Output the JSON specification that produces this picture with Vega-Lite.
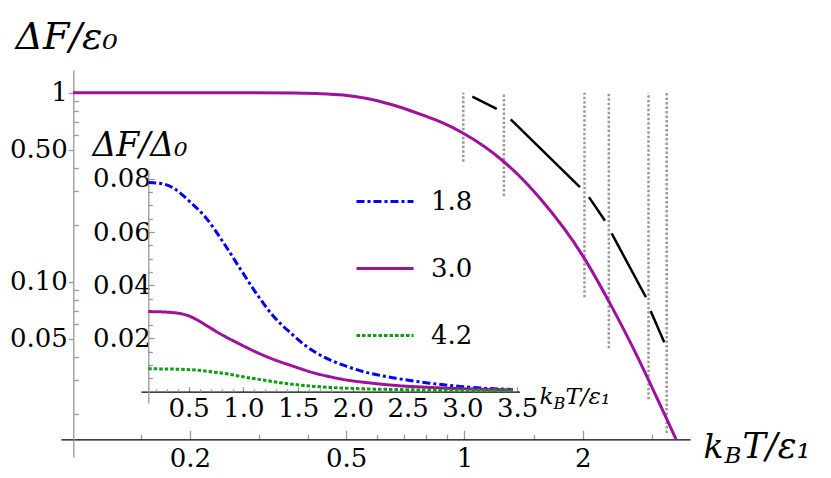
{
  "$schema": "https://vega.github.io/schema/vega-lite/v6.json",
  "width": 629,
  "height": 387,
  "autosize": {"type": "none"},
  "padding": {"left": 61, "top": 70, "right": 141, "bottom": 21},
  "background": "white",
  "config": {
    "view": {"stroke": null},
    "font": "DejaVu Serif",
    "axis": {
      "grid": false,
      "labelFont": "DejaVu Serif",
      "titleFont": "DejaVu Serif",
      "labelFontSize": 26,
      "labelColor": "black",
      "titleColor": "black",
      "labelFlush": false,
      "labelOverlap": false,
      "titleFontWeight": "normal",
      "titleFontStyle": "italic",
      "titleAlign": "left",
      "titleBaseline": "alphabetic",
      "titleAngle": 0,
      "tickColor": "#999999",
      "tickWidth": 1.3,
      "domainWidth": 1.3
    },
    "legend": {"labelFont": "DejaVu Serif"}
  },
  "datasets": {
    "main": [
      {"t": 0.1009, "f": 1.0}, {"t": 0.212, "f": 1.0}, {"t": 0.285, "f": 0.9995},
      {"t": 0.366, "f": 0.997}, {"t": 0.42, "f": 0.99}, {"t": 0.491, "f": 0.972},
      {"t": 0.56, "f": 0.935}, {"t": 0.658, "f": 0.861},
      {"t": 0.803, "f": 0.746}, {"t": 0.866, "f": 0.702}, {"t": 0.993, "f": 0.61},
      {"t": 1.26, "f": 0.431}, {"t": 1.556, "f": 0.276}, {"t": 2.006, "f": 0.1356},
      {"t": 2.332, "f": 0.0784}, {"t": 2.768, "f": 0.0393}, {"t": 2.94, "f": 0.0302},
      {"t": 3.27, "f": 0.0188}, {"t": 3.453, "f": 0.0147}
    ],
    "seg": [
      {"seg": 1, "t": 1.047, "f": 0.952}, {"seg": 1, "t": 1.208, "f": 0.82},
      {"seg": 2, "t": 1.311, "f": 0.723}, {"seg": 2, "t": 1.967, "f": 0.316},
      {"seg": 3, "t": 2.074, "f": 0.28}, {"seg": 3, "t": 2.278, "f": 0.21},
      {"seg": 4, "t": 2.369, "f": 0.18}, {"seg": 4, "t": 2.896, "f": 0.0827},
      {"seg": 5, "t": 2.977, "f": 0.07}, {"seg": 5, "t": 3.224, "f": 0.0478}
    ],
    "vlines": [
      {"t": 0.993, "lo": 0.431, "hi": 1.0}, {"t": 1.26, "lo": 0.284, "hi": 1.0},
      {"t": 2.02, "lo": 0.0827, "hi": 1.0}, {"t": 2.33, "lo": 0.0444, "hi": 1.0},
      {"t": 2.94, "lo": 0.0239, "hi": 1.0}, {"t": 3.27, "lo": 0.0158, "hi": 1.0}
    ],
    "inset": [
      {"a": "1.8", "t": 0.13, "f": 0.0786}, {"a": "1.8", "t": 0.25, "f": 0.0782},
      {"a": "1.8", "t": 0.36, "f": 0.0765}, {"a": "1.8", "t": 0.51, "f": 0.0714},
      {"a": "1.8", "t": 0.66, "f": 0.0652}, {"a": "1.8", "t": 0.82, "f": 0.0558},
      {"a": "1.8", "t": 0.97, "f": 0.0462}, {"a": "1.8", "t": 1.12, "f": 0.0368},
      {"a": "1.8", "t": 1.27, "f": 0.0285}, {"a": "1.8", "t": 1.43, "f": 0.0221},
      {"a": "1.8", "t": 1.58, "f": 0.0169}, {"a": "1.8", "t": 1.76, "f": 0.0125},
      {"a": "1.8", "t": 1.95, "f": 0.0094}, {"a": "1.8", "t": 2.09, "f": 0.0076},
      {"a": "1.8", "t": 2.4, "f": 0.005}, {"a": "1.8", "t": 2.7, "f": 0.0032},
      {"a": "1.8", "t": 3.0, "f": 0.0019}, {"a": "1.8", "t": 3.2, "f": 0.0013},
      {"a": "1.8", "t": 3.46, "f": 0.0008},
      {"a": "3.0", "t": 0.13, "f": 0.0301}, {"a": "3.0", "t": 0.25, "f": 0.03},
      {"a": "3.0", "t": 0.36, "f": 0.0297}, {"a": "3.0", "t": 0.43, "f": 0.0293},
      {"a": "3.0", "t": 0.5, "f": 0.0285}, {"a": "3.0", "t": 0.58, "f": 0.0269},
      {"a": "3.0", "t": 0.66, "f": 0.0249}, {"a": "3.0", "t": 0.74, "f": 0.0229},
      {"a": "3.0", "t": 0.82, "f": 0.021},
      {"a": "3.0", "t": 0.97, "f": 0.0178}, {"a": "3.0", "t": 1.12, "f": 0.0148},
      {"a": "3.0", "t": 1.27, "f": 0.0122}, {"a": "3.0", "t": 1.43, "f": 0.0099},
      {"a": "3.0", "t": 1.64, "f": 0.0071}, {"a": "3.0", "t": 1.79, "f": 0.0056},
      {"a": "3.0", "t": 1.94, "f": 0.0044}, {"a": "3.0", "t": 2.15, "f": 0.0033},
      {"a": "3.0", "t": 2.4, "f": 0.0023}, {"a": "3.0", "t": 2.7, "f": 0.0016},
      {"a": "3.0", "t": 3.0, "f": 0.0011}, {"a": "3.0", "t": 3.46, "f": 0.0007},
      {"a": "4.2", "t": 0.13, "f": 0.0086}, {"a": "4.2", "t": 0.35, "f": 0.0085},
      {"a": "4.2", "t": 0.57, "f": 0.0081}, {"a": "4.2", "t": 0.72, "f": 0.0074},
      {"a": "4.2", "t": 0.88, "f": 0.0065}, {"a": "4.2", "t": 1.02, "f": 0.0054},
      {"a": "4.2", "t": 1.18, "f": 0.0044}, {"a": "4.2", "t": 1.33, "f": 0.0034},
      {"a": "4.2", "t": 1.49, "f": 0.0026}, {"a": "4.2", "t": 1.79, "f": 0.0016},
      {"a": "4.2", "t": 2.09, "f": 0.0011}, {"a": "4.2", "t": 2.4, "f": 0.0008},
      {"a": "4.2", "t": 3.0, "f": 0.0005}, {"a": "4.2", "t": 3.46, "f": 0.0004}
    ]
  },
  "layer": [
    {
      "data": {"name": "vlines"},
      "mark": {"type": "rule", "color": "#999999", "strokeWidth": 2.5, "strokeDash": [2.5, 2]},
      "encoding": {
        "x": {
          "field": "t", "type": "quantitative",
          "scale": {"type": "log", "domain": [0.094, 3.749], "nice": false},
          "axis": {
            "orient": "bottom", "offset": -17.7, "labels": false, "ticks": false, "domain": false,
            "title": "T/ε₁", "titleFont": "DejaVu Serif", "titleFontSize": 35, "titleX": 681, "titleY": 18.5
          }
        },
        "y": {"field": "lo", "type": "quantitative", "scale": {"type": "log", "domain": [0.01181, 1.318], "nice": false}, "axis": null},
        "y2": {"field": "hi"}
      }
    },
    {
      "data": {"name": "seg"},
      "mark": {"type": "line", "color": "black", "strokeWidth": 2.5},
      "encoding": {
        "x": {
          "field": "t", "type": "quantitative",
          "scale": {"type": "log", "domain": [0.094, 3.749], "nice": false},
          "axis": {
            "orient": "bottom", "offset": -17.7,
            "values": [0.15, 0.3, 0.4, 0.6, 0.7, 0.8, 0.9, 1.5, 3],
            "labels": false, "domain": false, "tickSize": -5,
            "title": "B", "titleFont": "DejaVu Serif", "titleFontSize": 23, "titleX": 663, "titleY": 23.5
          }
        },
        "y": {
          "field": "f", "type": "quantitative",
          "scale": {"type": "log", "domain": [0.01181, 1.318], "nice": false},
          "axis": {
            "orient": "left", "offset": -12.3,
            "values": [0.02, 0.03, 0.04, 0.06, 0.07, 0.08, 0.09, 0.2, 0.3, 0.4, 0.6, 0.7, 0.8, 0.9],
            "labels": false, "domain": false, "tickSize": -5, "title": null
          }
        },
        "detail": {"field": "seg", "type": "nominal"}
      }
    },
    {
      "data": {"name": "main"},
      "mark": {"type": "line", "color": "#a0109e", "strokeWidth": 3, "interpolate": "monotone"},
      "encoding": {
        "x": {
          "field": "t", "type": "quantitative",
          "scale": {"type": "log", "domain": [0.094, 3.749], "nice": false},
          "axis": {
            "orient": "bottom", "offset": -17.7,
            "values": [0.2, 0.5, 1, 2],
            "labelExpr": "format(datum.value, '~g')",
            "labelFont": "DejaVu Serif", "labelFontSize": 26, "labelPadding": 15,
            "domainColor": "black", "tickSize": -9,
            "title": "k", "titleFont": "DejaVu Serif", "titleFontSize": 33, "titleX": 642, "titleY": 18.5
          }
        },
        "y": {
          "field": "f", "type": "quantitative",
          "scale": {"type": "log", "domain": [0.01181, 1.318], "nice": false},
          "axis": {
            "orient": "left", "offset": -12.3,
            "values": [0.05, 0.1, 0.5, 1],
            "labelExpr": "datum.value == 1 ? '1' : format(datum.value, '.2f')",
            "labelFont": "DejaVu Serif", "labelFontSize": 26, "labelPadding": 1,
            "domainColor": "#999999", "tickSize": 5,
            "title": "ΔF/ε₀", "titleFont": "DejaVu Serif", "titleFontSize": 38,
            "titleX": -58.3, "titleY": -21.7
          }
        }
      }
    },
    {
      "data": {"name": "inset"},
      "mark": {"type": "line", "strokeWidth": 3, "interpolate": "monotone"},
      "encoding": {
        "x": {
          "field": "t", "type": "quantitative",
          "scale": {"type": "linear", "domain": [0.064, 3.52], "range": [80, 458.4], "nice": false, "zero": false},
          "axis": {
            "orient": "bottom", "offset": -65.3,
            "values": [0.5, 1, 1.5, 2, 2.5, 3, 3.5],
            "format": ".1f", "labelFont": "DejaVu Serif", "labelFontSize": 26, "labelPadding": 9,
            "domainColor": "black", "tickSize": -5,
            "title": "k", "titleFont": "DejaVu Serif", "titleFontSize": 23, "titleX": 478, "titleY": 11.7
          }
        },
        "y": {
          "field": "f", "type": "quantitative",
          "scale": {"type": "linear", "domain": [-0.00425, 0.0833], "range": [333, 100], "nice": false, "zero": false},
          "axis": {
            "orient": "left", "offset": -87.3,
            "values": [0.02, 0.04, 0.06, 0.08],
            "format": ".2f", "labelFont": "DejaVu Serif", "labelFontSize": 26, "labelPadding": 4,
            "domainColor": "#999999", "tickSize": -6,
            "title": "ΔF/Δ₀", "titleFont": "DejaVu Serif", "titleFontSize": 33,
            "titleX": -56.3, "titleY": 85
          }
        },
        "color": {
          "field": "a", "type": "nominal",
          "scale": {"domain": ["1.8", "3.0", "4.2"], "range": ["#0000ff", "#a0109e", "#0a9f0a"]},
          "legend": {
            "orient": "none", "legendX": 294, "legendY": 101.5, "title": null,
            "symbolType": "stroke", "symbolSize": 3249, "symbolStrokeWidth": 3,
            "labelFont": "DejaVu Serif", "labelFontSize": 26, "labelOffset": 16, "rowPadding": 24, "padding": 0
          }
        },
        "strokeDash": {
          "field": "a", "type": "nominal",
          "scale": {"domain": ["1.8", "3.0", "4.2"], "range": [[8, 3, 3, 3], [1, 0], [3.5, 2]]},
          "legend": {
            "orient": "none", "legendX": 294, "legendY": 101.5, "title": null,
            "symbolType": "stroke", "symbolSize": 3249, "symbolStrokeWidth": 3,
            "labelFont": "DejaVu Serif", "labelFontSize": 26, "labelOffset": 16, "rowPadding": 24, "padding": 0
          }
        }
      }
    },
    {
      "data": {"name": "inset"},
      "mark": {"type": "point", "opacity": 0},
      "encoding": {
        "x": {
          "field": "t", "type": "quantitative",
          "scale": {"type": "linear", "domain": [0.064, 3.52], "range": [80, 458.4], "nice": false, "zero": false},
          "axis": {
            "orient": "bottom", "offset": -65.3,
            "values": [0.2, 0.3, 0.4, 0.6, 0.7, 0.8, 0.9, 1.1, 1.2, 1.3, 1.4, 1.6, 1.7, 1.8, 1.9, 2.1, 2.2, 2.3, 2.4, 2.6, 2.7, 2.8, 2.9, 3.1, 3.2, 3.3, 3.4],
            "labels": false, "domain": false, "tickSize": -3,
            "title": "B", "titleFont": "DejaVu Serif", "titleFontSize": 16, "titleX": 492, "titleY": 17
          }
        },
        "y": {
          "field": "f", "type": "quantitative",
          "scale": {"type": "linear", "domain": [-0.00425, 0.0833], "range": [333, 100], "nice": false, "zero": false},
          "axis": {
            "orient": "left", "offset": -87.3,
            "values": [0.005, 0.01, 0.015, 0.025, 0.03, 0.035, 0.045, 0.05, 0.055, 0.065, 0.07, 0.075],
            "labels": false, "domain": false, "tickSize": -4, "title": null
          }
        }
      }
    },
    {
      "data": {"name": "inset"},
      "mark": {"type": "point", "opacity": 0},
      "encoding": {
        "x": {
          "field": "t", "type": "quantitative",
          "scale": {"type": "linear", "domain": [0.064, 3.52], "range": [80, 458.4], "nice": false, "zero": false},
          "axis": {
            "orient": "bottom", "offset": -65.3, "labels": false, "ticks": false, "domain": false,
            "title": "T/ε₁", "titleFont": "DejaVu Serif", "titleFontSize": 23, "titleX": 504, "titleY": 11.7
          }
        },
        "y": {
          "field": "f", "type": "quantitative",
          "scale": {"type": "linear", "domain": [-0.00425, 0.0833], "range": [333, 100], "nice": false, "zero": false},
          "axis": null
        }
      }
    }
  ],
  "resolve": {"scale": {"x": "independent", "y": "independent"}}
}
